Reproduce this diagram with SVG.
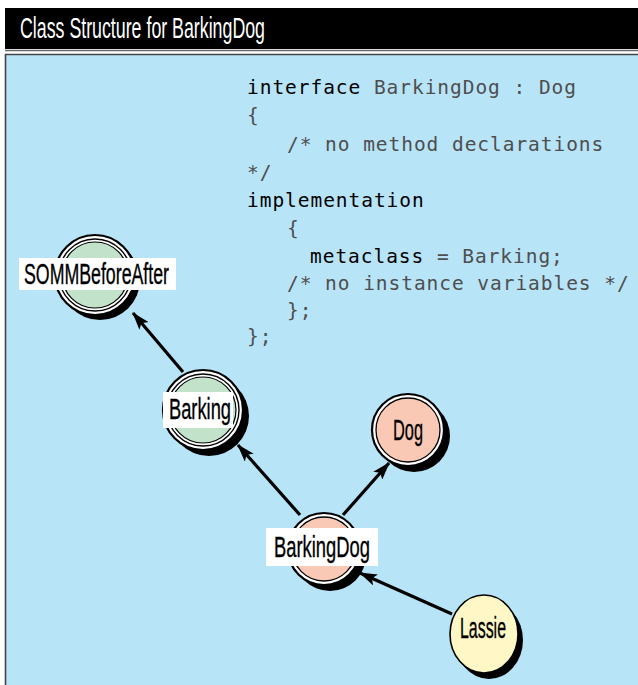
<svg xmlns="http://www.w3.org/2000/svg" width="638" height="685" viewBox="0 0 638 685">
  <style>
    .title { font-family: "Liberation Sans", Arial, sans-serif; font-size: 30px; fill: #ffffff; }
    .code { font-family: "DejaVu Sans Mono", "Liberation Mono", monospace; font-size: 19.5px; letter-spacing: 0.95px; fill: #4e4e4e; }
    .kw { fill: #000000; }
    .lbl { font-family: "Liberation Sans", Arial, sans-serif; font-size: 30px; fill: #000000; stroke: #000000; stroke-width: 0.35px; }
    .shadow { fill: #000000; }
    .ring { fill: #ffffff; stroke: #000000; stroke-width: 2.2; }
    .thin { fill: none; stroke: #000000; stroke-width: 1.4; }
    .green { fill: #c2e2ca; stroke: #000000; stroke-width: 1.2; }
    .pink { fill: #f9c9b6; stroke: #000000; stroke-width: 1.3; }
    .yellow { fill: #fff8c6; stroke: #000000; stroke-width: 1.6; }
    .box { fill: #ffffff; }
    .edge { stroke: #000000; stroke-width: 3.2; fill: none; marker-end: url(#head); }
  </style>
  <defs>
    <marker id="head" markerUnits="userSpaceOnUse" markerWidth="20" markerHeight="12" refX="17" refY="6" orient="auto">
      <path d="M0,0 L18,6 L0,12 L4,6 Z" fill="#000000"/>
    </marker>
  </defs>

  <!-- title bar -->
  <rect x="5" y="8" width="633" height="41" fill="#000000"/>
  <text class="title" x="20" y="38" textLength="245" lengthAdjust="spacingAndGlyphs">Class Structure for BarkingDog</text>
  <line x1="5" y1="50.5" x2="638" y2="50.5" stroke="#6a6a6a" stroke-width="1.5"/>

  <!-- panel -->
  <rect x="5" y="54" width="634" height="632" fill="#b8e4f8"/>
  <path d="M5.5,685 V54.5 H638" fill="none" stroke="#444444" stroke-width="1.6"/>

  <!-- IDL source -->
  <g id="source">
    <text class="code" x="247" y="94"><tspan class="kw">interface</tspan> BarkingDog : Dog</text>
    <text class="code" x="247" y="122">{</text>
    <text class="code" x="287" y="151">/* no method declarations</text>
    <text class="code" x="247" y="179">*/</text>
    <text class="code kw" x="247" y="207">implementation</text>
    <text class="code" x="287" y="235">{</text>
    <text class="code" x="310" y="263"><tspan class="kw">metaclass</tspan> = Barking;</text>
    <text class="code" x="287" y="290">/* no instance variables */</text>
    <text class="code" x="287" y="317">};</text>
    <text class="code" x="247" y="343">};</text>
  </g>

  <!-- connectors -->
  <g id="connectors">
    <line class="edge" x1="183" y1="372" x2="133" y2="313"/>
    <line class="edge" x1="300" y1="515" x2="238" y2="445"/>
    <line class="edge" x1="343" y1="515" x2="389" y2="463"/>
    <line class="edge" x1="452" y1="614" x2="360" y2="573"/>
  </g>

  <!-- nodes -->
  <g id="SOMMBeforeAfter">
    <circle class="shadow" cx="100" cy="280" r="40"/>
    <circle class="ring" cx="95" cy="275" r="40"/>
    <circle class="thin" cx="95" cy="275" r="36"/>
    <circle class="green" cx="95" cy="275" r="33"/>
    <rect class="box" x="19" y="258" width="157" height="32"/>
    <text class="lbl" x="24" y="284" textLength="145" lengthAdjust="spacingAndGlyphs">SOMMBeforeAfter</text>
  </g>

  <g id="Barking">
    <circle class="shadow" cx="209" cy="416" r="40"/>
    <circle class="ring" cx="203" cy="410" r="40"/>
    <circle class="thin" cx="203" cy="410" r="36"/>
    <circle class="green" cx="203" cy="410" r="33"/>
    <rect class="box" x="163" y="392" width="70" height="36"/>
    <text class="lbl" x="169" y="419" textLength="62" lengthAdjust="spacingAndGlyphs">Barking</text>
  </g>

  <g id="Dog">
    <circle class="shadow" cx="414" cy="436" r="36"/>
    <circle class="ring" cx="408" cy="430" r="36"/>
    <circle class="pink" cx="408" cy="430" r="32"/>
    <text class="lbl" x="393" y="440" textLength="30" lengthAdjust="spacingAndGlyphs">Dog</text>
  </g>

  <g id="BarkingDog">
    <circle class="shadow" cx="330" cy="555" r="36"/>
    <circle class="ring" cx="324" cy="549" r="36"/>
    <circle class="pink" cx="324" cy="549" r="32"/>
    <rect class="box" x="266" y="528" width="112" height="38"/>
    <text class="lbl" x="274" y="557" textLength="96" lengthAdjust="spacingAndGlyphs">BarkingDog</text>
  </g>

  <g id="Lassie">
    <ellipse class="shadow" cx="489" cy="640" rx="34" ry="39"/>
    <ellipse class="yellow" cx="484" cy="634" rx="34" ry="39"/>
    <text class="lbl" x="460" y="638" textLength="46" lengthAdjust="spacingAndGlyphs">Lassie</text>
  </g>
</svg>
